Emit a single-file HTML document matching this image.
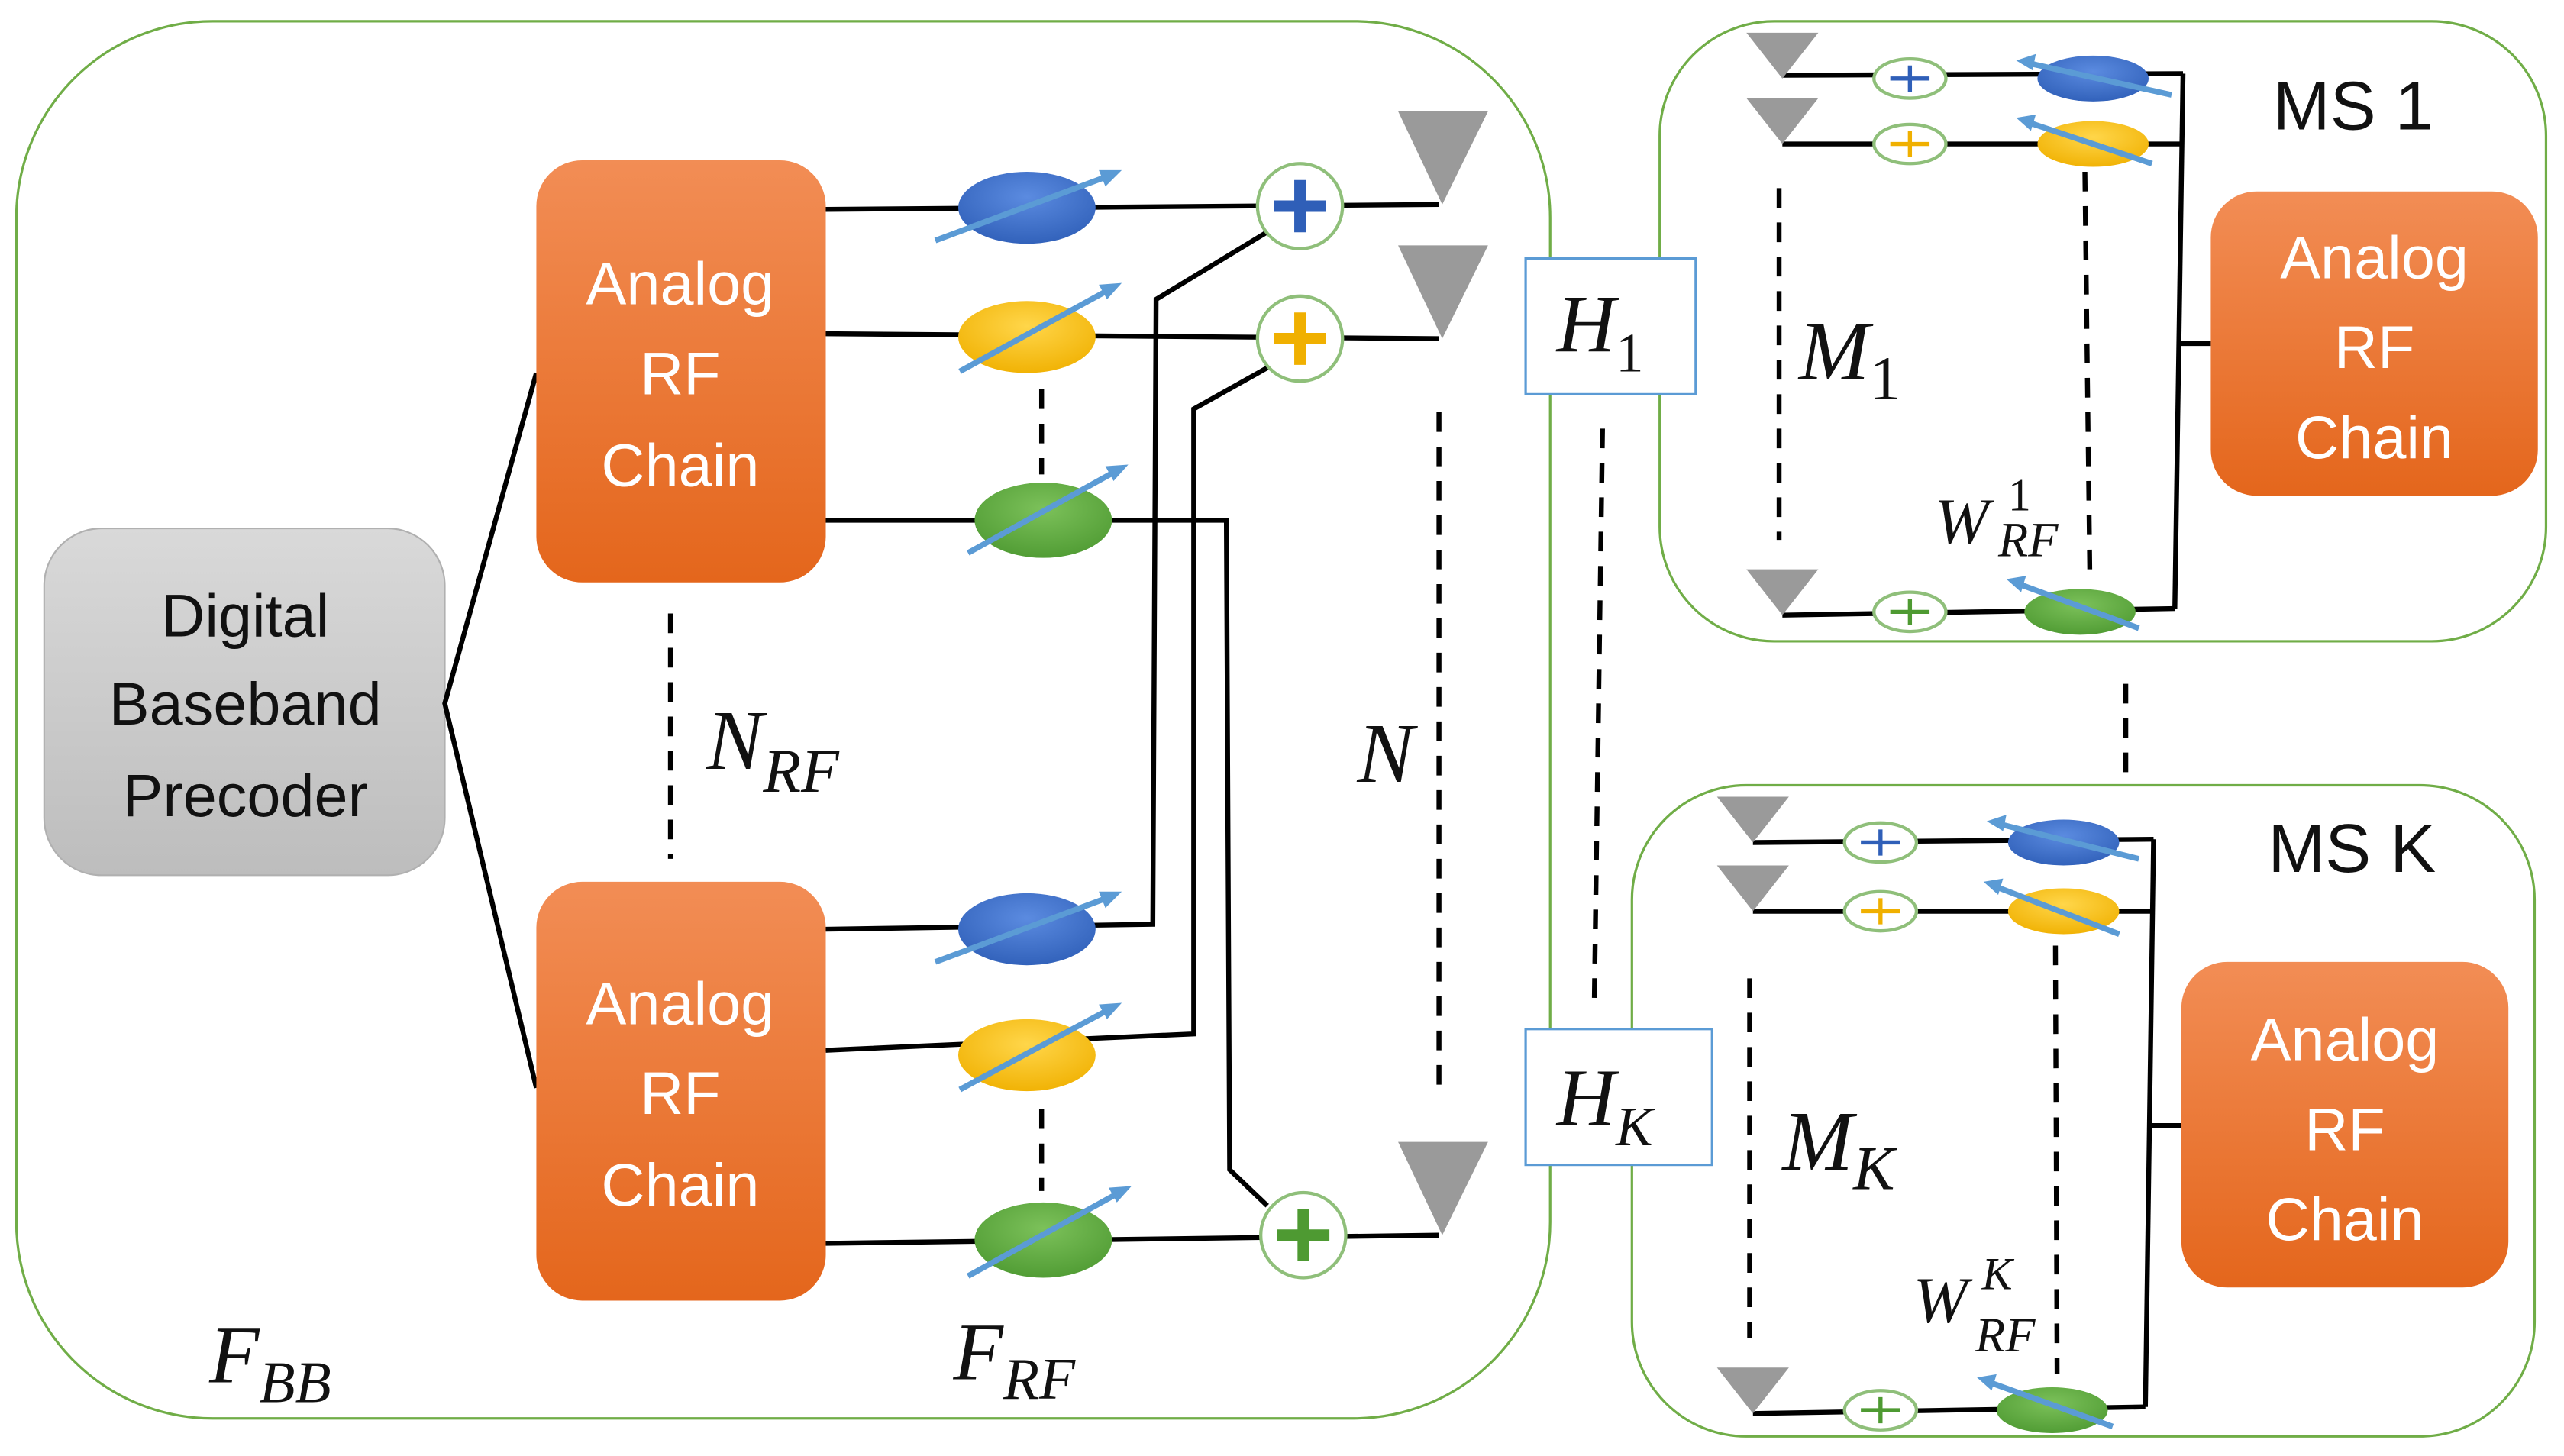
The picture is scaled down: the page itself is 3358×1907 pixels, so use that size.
<!DOCTYPE html>
<html><head><meta charset="utf-8"><style>html,body{margin:0;padding:0;background:#fff}svg{display:block}</style></head>
<body>
<svg width="3358" height="1907" viewBox="0 0 1568 890" preserveAspectRatio="none" xmlns="http://www.w3.org/2000/svg">
<defs>
<linearGradient id="og" x1="0" y1="0" x2="0" y2="1"><stop offset="0" stop-color="#f28d55"/><stop offset="1" stop-color="#e4661c"/></linearGradient>
<linearGradient id="gg" x1="0" y1="0" x2="0" y2="1"><stop offset="0" stop-color="#d9d9d9"/><stop offset="1" stop-color="#bdbdbd"/></linearGradient>
<radialGradient id="bl" cx="0.5" cy="0.35" r="0.7"><stop offset="0" stop-color="#5b8be0"/><stop offset="1" stop-color="#2f5fb8"/></radialGradient>
<radialGradient id="yl" cx="0.5" cy="0.35" r="0.7"><stop offset="0" stop-color="#ffd64a"/><stop offset="1" stop-color="#f0b000"/></radialGradient>
<radialGradient id="gr" cx="0.5" cy="0.35" r="0.7"><stop offset="0" stop-color="#7cc15a"/><stop offset="1" stop-color="#4e9a32"/></radialGradient>
</defs>
<g fill="none" stroke="#70ad47" stroke-width="1.5">
<rect x="10" y="13" width="938" height="854" rx="120"/>
<rect x="1015" y="13" width="542" height="379" rx="70"/>
<rect x="998" y="480" width="552" height="398" rx="70"/>
</g>
<rect x="27" y="323" width="245" height="212" rx="35" fill="url(#gg)" stroke="#b0b0b0"/>
<g font-family="Liberation Sans, sans-serif" font-size="37" text-anchor="middle" fill="#111">
<text x="150" y="389">Digital</text><text x="150" y="443">Baseband</text><text x="150" y="499">Precoder</text>
</g>
<g stroke="#000" stroke-width="3" fill="none">
<polyline points="328,228 272,430 328,665"/>
<line x1="505" y1="128" x2="880" y2="125"/>
<line x1="505" y1="204" x2="880" y2="207"/>
<polyline points="505,318 750,318 752,715 775,737"/>
<polyline points="505,568 705,565 707,183 778,140"/>
<polyline points="505,642 730,632 730,250 780,222"/>
<line x1="505" y1="760" x2="880" y2="755"/>
<line x1="1090" y1="46" x2="1335" y2="45"/>
<line x1="1090" y1="88" x2="1335" y2="88"/>
<line x1="1090" y1="376" x2="1330" y2="372"/>
<line x1="1335" y1="45" x2="1330" y2="372"/>
<line x1="1332" y1="210" x2="1352" y2="210"/>
<line x1="1072" y1="515" x2="1317" y2="513"/>
<line x1="1072" y1="557" x2="1317" y2="557"/>
<line x1="1072" y1="864" x2="1312" y2="860"/>
<line x1="1317" y1="513" x2="1312" y2="860"/>
<line x1="1315" y1="688" x2="1334" y2="688"/>
</g>
<g stroke="#000" stroke-width="3" stroke-dasharray="12,9" fill="none">
<line x1="410" y1="375" x2="410" y2="525"/>
<line x1="637" y1="238" x2="637" y2="290"/>
<line x1="637" y1="678" x2="637" y2="728"/>
<line x1="880" y1="252" x2="880" y2="668"/>
<line x1="980" y1="262" x2="975" y2="612"/>
<line x1="1088" y1="115" x2="1088" y2="330"/>
<line x1="1275" y1="105" x2="1278" y2="350"/>
<line x1="1070" y1="598" x2="1070" y2="818"/>
<line x1="1257" y1="578" x2="1258" y2="840"/>
<line x1="1300" y1="418" x2="1300" y2="472"/>
</g>
<g fill="url(#og)">
<rect x="328" y="98" width="177" height="258" rx="28"/>
<rect x="328" y="539" width="177" height="256" rx="28"/>
<rect x="1352" y="117" width="200" height="186" rx="28"/>
<rect x="1334" y="588" width="200" height="199" rx="28"/>
</g>
<g font-family="Liberation Sans, sans-serif" font-size="37" text-anchor="middle" fill="#fff">
<text x="416" y="186">Analog</text><text x="416" y="241">RF</text><text x="416" y="297">Chain</text>
<text x="416" y="626">Analog</text><text x="416" y="681">RF</text><text x="416" y="737">Chain</text>
<text x="1452" y="170">Analog</text><text x="1452" y="225">RF</text><text x="1452" y="280">Chain</text>
<text x="1434" y="648">Analog</text><text x="1434" y="703">RF</text><text x="1434" y="758">Chain</text>
</g>
<g>
<ellipse cx="628" cy="127" rx="42" ry="22" fill="url(#bl)"/>
<ellipse cx="628" cy="206" rx="42" ry="22" fill="url(#yl)"/>
<ellipse cx="638" cy="318" rx="42" ry="23" fill="url(#gr)"/>
<ellipse cx="628" cy="568" rx="42" ry="22" fill="url(#bl)"/>
<ellipse cx="628" cy="645" rx="42" ry="22" fill="url(#yl)"/>
<ellipse cx="638" cy="758" rx="42" ry="23" fill="url(#gr)"/>
<ellipse cx="1280" cy="48" rx="34" ry="14" fill="url(#bl)"/>
<ellipse cx="1280" cy="88" rx="34" ry="14" fill="url(#yl)"/>
<ellipse cx="1272" cy="374" rx="34" ry="14" fill="url(#gr)"/>
<ellipse cx="1262" cy="515" rx="34" ry="14" fill="url(#bl)"/>
<ellipse cx="1262" cy="557" rx="34" ry="14" fill="url(#yl)"/>
<ellipse cx="1255" cy="862" rx="34" ry="14" fill="url(#gr)"/>
</g>
<g stroke="#5b9bd5" stroke-width="3.5">
<line x1="572" y1="147" x2="682" y2="106"/>
<line x1="587" y1="227" x2="682" y2="175"/>
<line x1="592" y1="338" x2="686" y2="286"/>
<line x1="572" y1="588" x2="682" y2="547"/>
<line x1="587" y1="666" x2="682" y2="615"/>
<line x1="592" y1="780" x2="688" y2="727"/>
<line x1="1328" y1="58" x2="1238" y2="38"/>
<line x1="1316" y1="100" x2="1238" y2="74"/>
<line x1="1308" y1="384" x2="1232" y2="356"/>
<line x1="1308" y1="525" x2="1220" y2="503"/>
<line x1="1296" y1="571" x2="1218" y2="541"/>
<line x1="1292" y1="872" x2="1214" y2="844"/>
</g>
<g fill="#5b9bd5">
<polygon points="686,104 672,104 676,114"/><polygon points="686,173 672,174 677,183"/><polygon points="690,284 676,285 681,294"/>
<polygon points="686,545 672,545 676,555"/><polygon points="686,613 672,614 677,623"/><polygon points="692,725 678,726 683,735"/>
<polygon points="1233,37 1245,33 1243,43"/><polygon points="1233,72 1245,70 1242,80"/><polygon points="1227,354 1239,352 1236,362"/>
<polygon points="1215,502 1227,498 1225,508"/><polygon points="1213,539 1225,537 1222,547"/><polygon points="1209,842 1221,840 1218,850"/>
</g>
<g fill="#fff" stroke="#8fbf7a" stroke-width="2">
<circle cx="795" cy="126" r="26"/><circle cx="795" cy="207" r="26"/><circle cx="797" cy="755" r="26"/>
<ellipse cx="1168" cy="48" rx="22" ry="12"/><ellipse cx="1168" cy="88" rx="22" ry="12"/><ellipse cx="1168" cy="374" rx="22" ry="12"/>
<ellipse cx="1150" cy="515" rx="22" ry="12"/><ellipse cx="1150" cy="557" rx="22" ry="12"/><ellipse cx="1150" cy="862" rx="22" ry="12"/>
</g>
<g stroke-width="7">
<path d="M795,110V142M779,126H811" stroke="#2f5fb8"/>
<path d="M795,191V223M779,207H811" stroke="#f0b000"/>
<path d="M797,739V771M781,755H813" stroke="#4e9a32"/>
</g>
<g stroke-width="2.5">
<path d="M1168,40V56M1156,48H1180" stroke="#2f5fb8"/>
<path d="M1168,80V96M1156,88H1180" stroke="#f0b000"/>
<path d="M1168,366V382M1156,374H1180" stroke="#4e9a32"/>
<path d="M1150,507V523M1138,515H1162" stroke="#2f5fb8"/>
<path d="M1150,549V565M1138,557H1162" stroke="#f0b000"/>
<path d="M1150,854V870M1138,862H1162" stroke="#4e9a32"/>
</g>
<g fill="#9a9a9a">
<polygon points="855,68 910,68 882,125"/><polygon points="855,150 910,150 882,207"/><polygon points="855,698 910,698 882,755"/>
<polygon points="1068,20 1112,20 1090,48"/><polygon points="1068,60 1112,60 1090,88"/><polygon points="1068,348 1112,348 1090,376"/>
<polygon points="1050,487 1094,487 1072,515"/><polygon points="1050,529 1094,529 1072,557"/><polygon points="1050,836 1094,836 1072,864"/>
</g>
<g fill="#fff" stroke="#5b9bd5" stroke-width="1.5">
<rect x="933" y="158" width="104" height="83"/><rect x="933" y="629" width="114" height="83"/>
</g>
<g font-family="Liberation Serif, serif" font-style="italic" fill="#111">
<text x="952" y="215" font-size="50">H<tspan font-size="34" font-style="normal" dy="12">1</tspan></text>
<text x="952" y="688" font-size="50">H<tspan font-size="34" dy="12">K</tspan></text>
<text x="432" y="470" font-size="52">N<tspan font-size="38" dy="14">RF</tspan></text>
<text x="830" y="478" font-size="52">N</text>
<text x="128" y="845" font-size="50">F<tspan font-size="36" dy="12">BB</tspan></text>
<text x="583" y="843" font-size="50">F<tspan font-size="36" dy="12">RF</tspan></text>
<text x="1100" y="232" font-size="52">M<tspan font-size="38" font-style="normal" dy="12">1</tspan></text>
<text x="1090" y="715" font-size="52">M<tspan font-size="38" dy="12">K</tspan></text>
<text x="1183" y="332" font-size="40">W</text><text x="1228" y="312" font-size="28" font-style="normal">1</text><text x="1222" y="340" font-size="30">RF</text>
<text x="1170" y="808" font-size="40">W</text><text x="1212" y="788" font-size="28">K</text><text x="1208" y="826" font-size="30">RF</text>
</g>
<g font-family="Liberation Sans, sans-serif" font-size="42" fill="#111">
<text x="1390" y="79">MS 1</text><text x="1387" y="533">MS K</text>
</g>
</svg>
</body></html>
